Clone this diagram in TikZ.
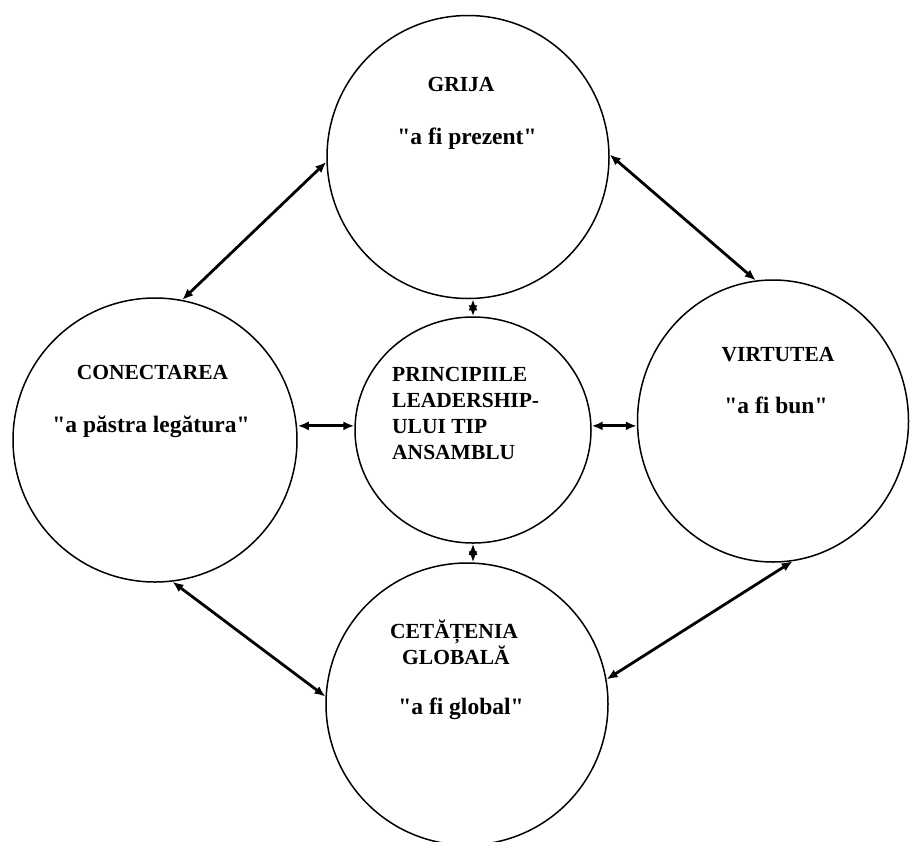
\documentclass[tikz,border=0pt]{standalone}
\usepackage{fontspec}
\setmainfont{Liberation Serif}[Ligatures=TeXOff]
\usetikzlibrary{arrows.meta,shapes.geometric}
\begin{document}
\begin{tikzpicture}[x=1pt,y=-1pt,
  circ/.style={draw, ellipse, line width=1.5pt, inner sep=0pt},
  capt/.style={font=\fontsize{21.5}{26}\selectfont\bfseries, inner sep=0pt, anchor=base},
  quot/.style={font=\fontsize{23.5}{26}\selectfont\bfseries, inner sep=0pt, anchor=base},
  link/.style={line width=2.8pt, {Latex[length=11pt,width=9pt]}-{Latex[length=11pt,width=9pt]}}
]
\useasboundingbox (0,0) rectangle (910,841);
% circles
\node[circ, minimum width=282pt, minimum height=283pt] (top) at (468,157) {};
\node[circ, minimum width=284pt, minimum height=284pt] (left) at (155,440) {};
\node[circ, minimum width=271pt, minimum height=282pt] (right) at (773,421) {};
\node[circ, minimum width=236pt, minimum height=226pt] (mid) at (473,430) {};
\node[circ, minimum width=282pt, minimum height=282pt] (bot) at (467,704) {};
% texts
\node[capt] (grija) at (461,91) {GRIJA};
\node[quot] (grijaq) at (467,144) {"a fi prezent"};
\node[capt] (conect) at (152.5,379) {CONECTAREA};
\node[quot] (conectq) at (151,432) {"a păstra legătura"};
\node[capt] (virt) at (778,361) {VIRTUTEA};
\node[quot] (virtq) at (776,413) {"a fi bun"};
\node[capt, anchor=base west] (p1) at (392,381) {PRINCIPIILE};
\node[capt, anchor=base west] (p2) at (392,407) {LEADERSHIP-};
\node[capt, anchor=base west] (p3) at (392,433) {ULUI TIP};
\node[capt, anchor=base west] (p4) at (392,459) {ANSAMBLU};
\node[capt] (cet1) at (454,638) {CETĂȚENIA};
\node[capt] (cet2) at (456,664) {GLOBALĂ};
\node[quot] (cetq) at (461,714) {"a fi global"};
% connectors
\draw[link] (top.182.4) -- (left.79.7);
\draw[link] (top.1.6) -- (right.97.2);
\draw[link] (left.-83.2) -- (bot.177.6);
\draw[link] (bot.10) -- (right.-82);
\draw[link] (mid.178.5 -| left.east) -- (mid.178.5);
\draw[link] (mid.2) -- (mid.2 -| right.west);
\draw[link] (mid.north |- top.south) -- (mid.north);
\draw[link] (mid.south) -- (mid.south |- bot.north);
\end{tikzpicture}
\end{document}
